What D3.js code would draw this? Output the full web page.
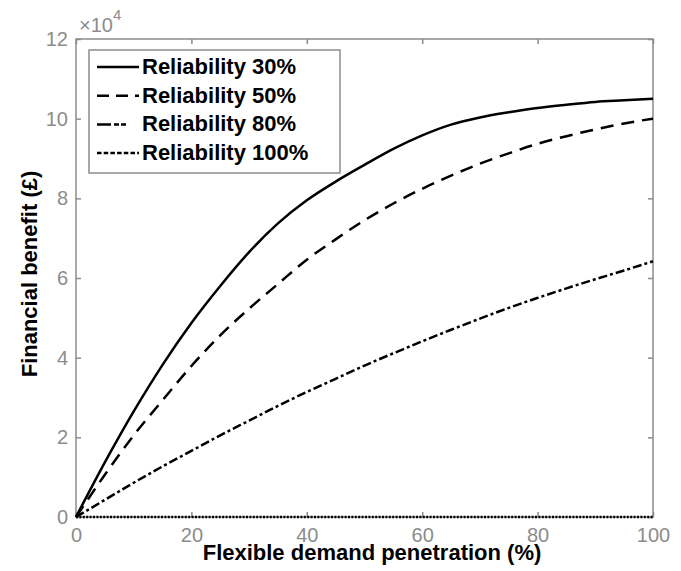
<!DOCTYPE html>
<html>
<head>
<meta charset="utf-8">
<script src="https://d3js.org/d3.v7.min.js"></script>
<style>
  body { margin: 0; background: #fff; }
  svg { font-family: "Liberation Sans", Arial, sans-serif; }
  .tick text { fill: #8c8c8c; font-size: 20px; }
  .axis path, .axis line { stroke: #8c8c8c; stroke-width: 1.5; }
</style>
</head>
<body>
<svg width="681" height="571"></svg>
<script>
// penetration (%) and financial benefit (x1e4 GBP)
var penetration = [0, 5, 10, 15, 20, 25, 30, 35, 40, 45, 50, 55, 60, 65, 70, 75, 80, 85, 90, 95, 100];
var rel30  = [0, 1.37, 2.65, 3.82, 4.87, 5.80, 6.65, 7.37, 7.95, 8.42, 8.84, 9.24, 9.58, 9.85, 10.03, 10.16, 10.27, 10.35, 10.42, 10.46, 10.5];
var rel50  = [0, 1.06, 2.05, 2.93, 3.79, 4.56, 5.23, 5.85, 6.46, 6.97, 7.45, 7.87, 8.24, 8.57, 8.87, 9.13, 9.37, 9.56, 9.73, 9.88, 10.0];
var rel80  = [0, 0.43, 0.86, 1.27, 1.66, 2.05, 2.42, 2.79, 3.14, 3.47, 3.80, 4.11, 4.41, 4.70, 4.98, 5.25, 5.50, 5.74, 5.97, 6.19, 6.42];
var rel100 = [0, 0, 0, 0, 0, 0, 0, 0, 0, 0, 0, 0, 0, 0, 0, 0, 0, 0, 0, 0, 0];
var seriesNames = ["Reliability 30%", "Reliability 50%", "Reliability 80%", "Reliability 100%"];
var xTicks = [0, 20, 40, 60, 80, 100];
var yTicks = [0, 2, 4, 6, 8, 10, 12];

var series = [
  {name: seriesNames[0], values: rel30,  dash: null,      legDash: null},
  {name: seriesNames[1], values: rel50,  dash: "13,8",    legDash: "12,7"},
  {name: seriesNames[2], values: rel80,  dash: "9,3,3,3", legDash: "14,3,5,2,5,20"},
  {name: seriesNames[3], values: rel100, dash: "2,1.4",   legDash: "4.5,2.2"}
];

var svg = d3.select("svg");
var pL = 76, pT = 39, pR = 653, pB = 517;
var x = d3.scaleLinear().domain([0, 100]).range([pL, pR]);
var y = d3.scaleLinear().domain([0, 12]).range([pB, pT]);

// box
svg.append("rect").attr("x", pL).attr("y", pT)
   .attr("width", pR - pL).attr("height", pB - pT)
   .attr("fill", "none").attr("stroke", "#8c8c8c").attr("stroke-width", 1.5);

var gx = svg.append("g").attr("class", "axis")
   .attr("transform", "translate(0," + pB + ")")
   .call(d3.axisBottom(x).tickValues(xTicks).tickSize(-5).tickPadding(10));
var gy = svg.append("g").attr("class", "axis")
   .attr("transform", "translate(" + pL + ",0)")
   .call(d3.axisLeft(y).tickValues(yTicks).tickSize(-5).tickPadding(8));
svg.append("g").attr("class", "axis")
   .attr("transform", "translate(0," + pT + ")")
   .call(d3.axisTop(x).tickValues(xTicks).tickSize(-5).tickFormat(""));
svg.append("g").attr("class", "axis")
   .attr("transform", "translate(" + pR + ",0)")
   .call(d3.axisRight(y).tickValues(yTicks).tickSize(-5).tickFormat(""));
svg.selectAll(".axis .domain").remove();
gx.selectAll(".tick text").attr("dy", "0.75em");

// exponent
var ex = svg.append("text").attr("x", pL + 3).attr("y", 32)
   .attr("fill", "#8c8c8c").attr("font-size", 20);
ex.append("tspan").text("\u00d710");
ex.append("tspan").attr("dy", -12).attr("font-size", 15).text("4");

// lines
var line = d3.line().x(function(d) { return x(d[0]); }).y(function(d) { return y(d[1]); })
   .curve(d3.curveMonotoneX);
series.forEach(function(s) {
  svg.append("path")
     .datum(penetration.map(function(p, i) { return [p, s.values[i]]; }))
     .attr("d", line)
     .attr("fill", "none")
     .attr("stroke", "#000")
     .attr("stroke-width", 2.5)
     .attr("stroke-dasharray", s.dash);
});

// axis titles
svg.append("text").attr("x", 372).attr("y", 560)
   .attr("text-anchor", "middle").attr("font-weight", "bold").attr("font-size", 22)
   .text("Flexible demand penetration (%)");
svg.append("text").attr("transform", "translate(37,274) rotate(-90)")
   .attr("text-anchor", "middle").attr("font-weight", "bold").attr("font-size", 22)
   .text("Financial benefit (\u00a3)");

// legend
var lg = svg.append("g");
lg.append("rect").attr("x", 89).attr("y", 50).attr("width", 251).attr("height", 123)
   .attr("fill", "#fff").attr("stroke", "#8c8c8c").attr("stroke-width", 1.5);
series.forEach(function(s, i) {
  var yy = 67 + i * 28.7;
  lg.append("line").attr("x1", 97).attr("x2", 139).attr("y1", yy).attr("y2", yy)
    .attr("stroke", "#000").attr("stroke-width", 2.5).attr("stroke-dasharray", s.legDash);
  lg.append("text").attr("x", 142).attr("y", yy + 7)
    .attr("font-weight", "bold").attr("font-size", 22).text(s.name);
});
</script>
</body>
</html>
